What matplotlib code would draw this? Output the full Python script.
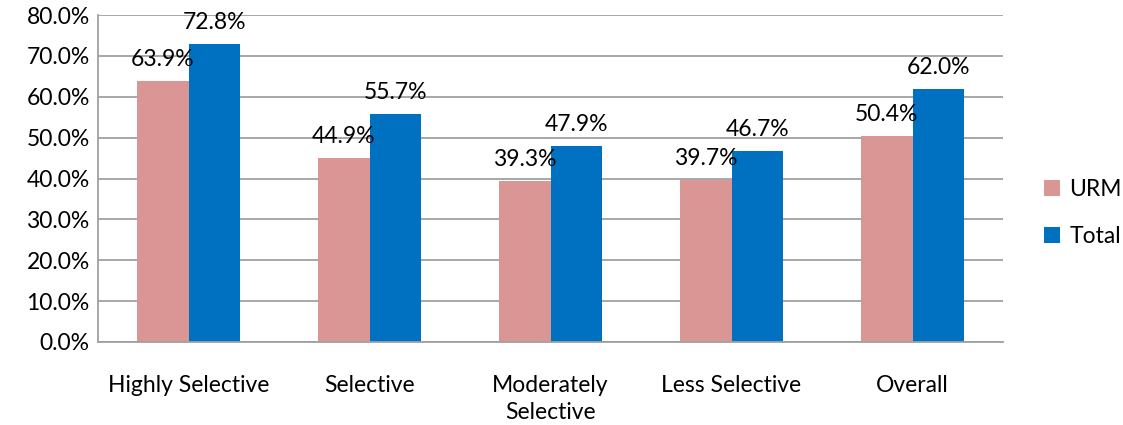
import numpy as np
import matplotlib.pyplot as plt

plt.rcParams['font.family'] = ['Lato', 'DejaVu Sans']

categories = ["Highly Selective", "Selective", "Moderately\nSelective", "Less Selective", "Overall"]
urm = [63.9, 44.9, 39.3, 39.7, 50.4]
total = [72.8, 55.7, 47.9, 46.7, 62.0]

fs = 16.5

fig = plt.figure(figsize=(11.23, 4.25), dpi=100)
ax = fig.add_axes([98 / 1123, 1 - 342 / 425, 905 / 1123, 327 / 425])

x = np.arange(len(categories))
w = 0.285
b1 = ax.bar(x - w / 2, urm, w, color='#D99694', label='URM', zorder=2)
b2 = ax.bar(x + w / 2, total, w, color='#0070C0', label='Total', zorder=2)

for bars in (b1, b2):
    for rect in bars:
        h = rect.get_height()
        ax.text(rect.get_x() + rect.get_width() / 2, h + 2.7, f"{h:.1f}%",
                ha='center', va='bottom', fontsize=fs)

ax.set_xlim(-0.5, len(categories) - 0.5)
ax.set_ylim(0, 80)
ax.set_yticks(np.arange(0, 81, 10))
ax.set_yticklabels([f"{v:.1f}%" for v in np.arange(0, 81, 10)], fontsize=fs)
ax.set_xticks(x)
ax.set_xticklabels(categories, fontsize=fs, linespacing=1.35)
ax.tick_params(axis='both', length=0)
ax.tick_params(axis='x', pad=24)
ax.tick_params(axis='y', pad=6)
ax.yaxis.grid(True, color='#A0A0A0', linewidth=1.3, zorder=0)
for side in ('top', 'right'):
    ax.spines[side].set_visible(False)
for side in ('left', 'bottom'):
    ax.spines[side].set_color('#A0A0A0')
    ax.spines[side].set_linewidth(1.3)

fig.legend(handles=[b1, b2], loc='center left', bbox_to_anchor=(1044 / 1123, 1 - 213 / 425),
           frameon=False, fontsize=fs, handlelength=0.7, handleheight=0.7,
           handletextpad=0.4, labelspacing=1.1, borderpad=0, borderaxespad=0)

fig.savefig('out.png', dpi=100)
